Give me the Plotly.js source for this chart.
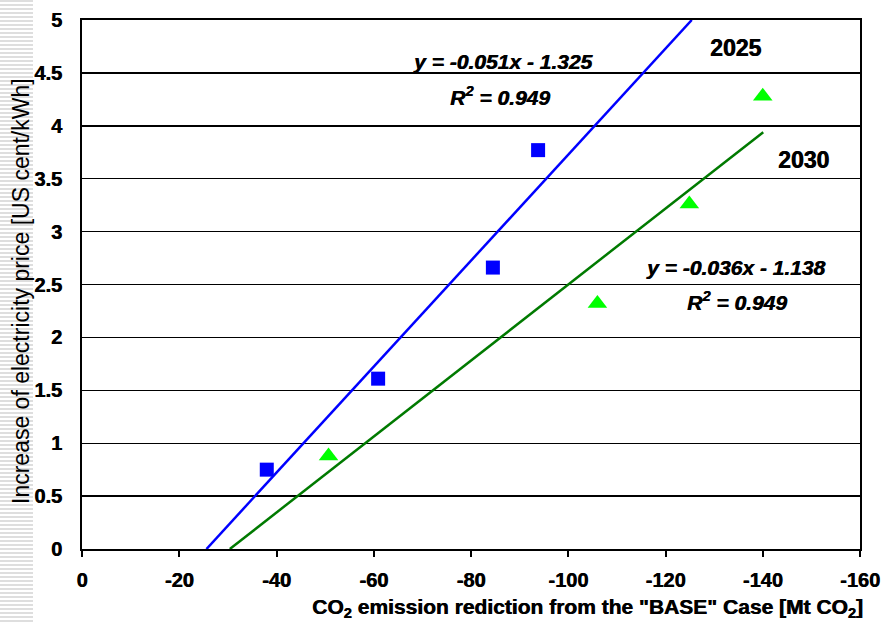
<!DOCTYPE html>
<html>
<head>
<meta charset="utf-8">
<script src="https://cdn.plot.ly/plotly-3.0.1.min.js"></script>
<style>html,body{margin:0;padding:0;background:#fff;}#chart{width:883px;height:623px;}</style>
</head>
<body>
<div id="chart"></div>
<script>
// Data
const x2025 = [-38.0, -60.9, -84.5, -93.8];
const y2025 = [0.75, 1.61, 2.66, 3.77];
const x2030 = [-50.7, -106.0, -124.9, -140.0];
const y2030 = [0.88, 2.32, 3.26, 4.28];
// trend line end points
const trend2025X = [-25.6, -125.4];
const trend2025Y = [0, 5];
const trend2030X = [-30.4, -140.1];
const trend2030Y = [0, 3.94];
const xTickVals = [0, -20, -40, -60, -80, -100, -120, -140, -160];
const xTickText = ["0", "-20", "-40", "-60", "-80", "-100", "-120", "-140", "-160"];
const yTickVals = [0, 0.5, 1, 1.5, 2, 2.5, 3, 3.5, 4, 4.5, 5];
const yTickText = ["0", "0.5", "1", "1.5", "2", "2.5", "3", "3.5", "4", "4.5", "5"];
const eq2025 = "y = -0.051x - 1.325";
const r2025 = "R<sup>2</sup> = 0.949";
const eq2030 = "y = -0.036x - 1.138";
const r2030 = "R<sup>2</sup> = 0.949";
const yTitle = "Increase of electricity price [US cent/kWh]";
const xTitle = 'CO<sub>2</sub> emission rediction from the "BASE" Case [Mt CO<sub>2</sub>]';

const F = "Liberation Sans";
const SH = "0.6px 0px 0px #000";

const traces = [
  {x: trend2025X, y: trend2025Y, mode: 'lines', line: {color: '#0000FF', width: 2.5}, hoverinfo: 'skip', showlegend: false},
  {x: trend2030X, y: trend2030Y, mode: 'lines', line: {color: '#007A00', width: 2.5}, hoverinfo: 'skip', showlegend: false},
  {x: x2025, y: y2025, mode: 'markers', name: '2025', marker: {symbol: 'square', size: 14, color: '#0000FF'}, showlegend: false},
  {x: x2030, y: y2030, mode: 'markers', name: '2030', marker: {symbol: 'triangle-up', size: 17, color: '#00FF00'}, showlegend: false}
];

// decorative striped band on the left edge (slide background)
const shapes = [];
for (let py = 1; py < 623; py += 4) {
  shapes.push({type: 'line', xref: 'paper', yref: 'paper', layer: 'below',
    x0: -82/778, x1: (33-82)/778, y0: (549-py)/529, y1: (549-py)/529,
    line: {color: '#dedede', width: 2}});
}

const ann = (t, x, y, size, italic) => ({
  text: '<b>' + (italic ? '<i>' + t + '</i>' : t) + '</b>', x: x, y: y, xref: 'x', yref: 'y', showarrow: false,
  xanchor: 'center', yanchor: 'middle',
  font: {family: F, size: size, color: '#000', weight: 700, shadow: SH}
});

const layout = {
  width: 883, height: 623,
  margin: {l: 82, r: 23, t: 20, b: 74},
  paper_bgcolor: '#fff', plot_bgcolor: '#fff',
  showlegend: false,
  font: {family: F, color: '#000'},
  xaxis: {
    range: [0, -160], tickvals: xTickVals, ticktext: xTickText,
    showgrid: false, zeroline: false,
    showline: true, linecolor: '#000', linewidth: 2, mirror: true,
    ticks: 'outside', ticklen: 6, tickwidth: 2, tickcolor: '#000',
    ticklabelstandoff: 6,
    tickfont: {family: F, size: 20, color: '#000', weight: 700, shadow: SH}
  },
  yaxis: {
    range: [0, 5], tickvals: yTickVals, ticktext: yTickText,
    showgrid: true, gridcolor: '#000', gridwidth: 1.4, zeroline: false,
    showline: true, linecolor: '#000', linewidth: 2, mirror: true,
    ticks: '', ticklabelstandoff: 14,
    tickfont: {family: F, size: 20, color: '#000', weight: 700, shadow: SH},
    automargin: false
  },
  shapes: shapes,
  annotations: [
    ann(eq2025, -86.4, 4.61, 21, true),
    ann(r2025, -86.0, 4.28, 21, true),
    ann('2025', -134.3, 4.74, 23, false),
    ann('2030', -148.3, 3.68, 23, false),
    ann(eq2030, -134.3, 2.66, 21, true),
    ann(r2030, -134.7, 2.34, 21, true),
    {text: '<b>' + xTitle + '</b>',
      xref: 'paper', yref: 'paper', x: (587-82)/778, y: (549-608)/529,
      xanchor: 'center', yanchor: 'middle', showarrow: false,
      font: {family: F, size: 21, color: '#000', weight: 700, shadow: SH}},
    {text: yTitle, textangle: -90,
      xref: 'paper', yref: 'paper', x: (21-82)/778, y: (549-291)/529,
      xanchor: 'center', yanchor: 'middle', showarrow: false,
      font: {family: F, size: 23, color: '#000'}}
  ]
};

Plotly.newPlot('chart', traces, layout, {displayModeBar: false, staticPlot: true});
</script>
</body>
</html>
